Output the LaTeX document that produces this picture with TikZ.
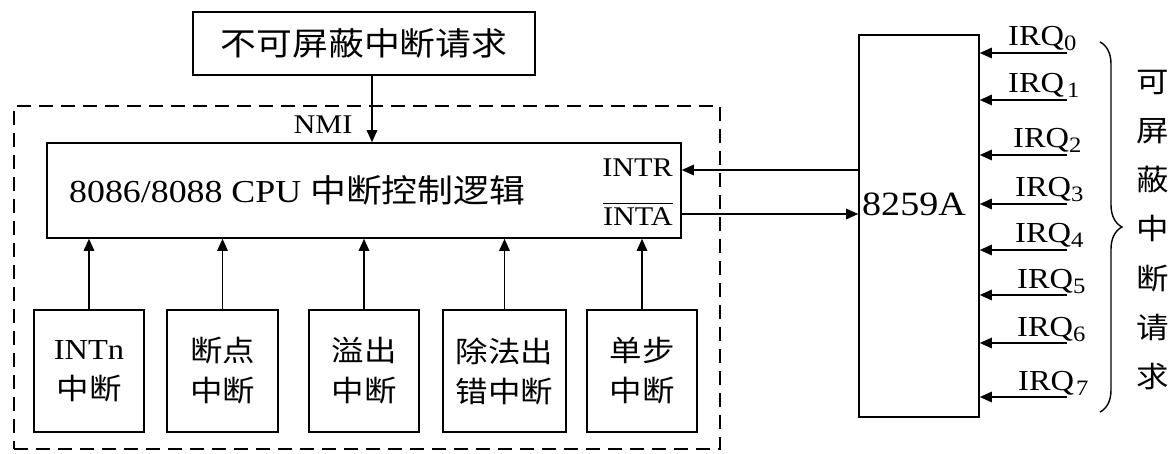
\documentclass[tikz,border=0pt]{standalone}
\usepackage{fontspec}
\setmainfont{Liberation Serif}[FakeStretch=1.12]
\newfontfamily\cjk{Noto Sans CJK SC}[FakeStretch=1.12]
\usetikzlibrary{arrows.meta,decorations.pathreplacing,calc}
\newcommand\fsz[2]{\fontsize{#1pt}{#2pt}\selectfont}
\tikzset{
  box/.style={draw, line width=1.6pt, inner sep=0pt},
  arr/.style={line width=1.4pt, -{Triangle[length=12pt,width=10.5pt]}},
  lbl/.style={inner sep=0pt},
  frame/.style={draw, line width=1.5pt, dash pattern=on 14pt off 8pt, inner sep=0pt},
}
\begin{document}
\begin{tikzpicture}[x=1pt,y=-1pt]
\useasboundingbox (0,0) rectangle (1174,454);
\fill[white] (0,0) rectangle (1174,454);

% non-maskable request
\node[box, minimum width=342pt, minimum height=63pt, font={\cjk\fsz{32}{38}}] (nmireq) at (364,43.5) {不可屏蔽中断请求};

% dashed frame
\node[frame, minimum width=706pt, minimum height=343pt] (frm) at (367,277.5) {};

% CPU box
\node[box, minimum width=634pt, minimum height=95pt] (cpu) at (364,190.5) {};
\node[lbl, anchor=west] (cputext) at (69,190) {\fsz{32}{38}8086/8088 CPU {\cjk 中断控制逻辑}};
\node[lbl, anchor=east] (intr) at (673,168) {\fsz{27}{32}INTR};
\node[lbl, anchor=east] (inta) at (673,214) {\fsz{27}{32}\vbox{\hrule height 1.5pt\kern3pt\hbox{INTA}}};
\node[lbl] (nmilbl) at (323,125) {\fsz{27}{32}NMI};
\coordinate (nmiX) at (372,0);
\draw[arr] (nmireq.south -| nmiX) -- (cpu.north -| nmiX);

% internal interrupt sources
\node[box, minimum width=110pt, minimum height=122pt, align=center, font={\fsz{29}{40}}] (b1) at (89,371) {INTn\\{\cjk 中断}};
\node[box, minimum width=111pt, minimum height=122pt, align=center, font={\cjk\fsz{29}{40}}] (b2) at (222.5,371) {断点\\中断};
\node[box, minimum width=110pt, minimum height=122pt, align=center, font={\cjk\fsz{29}{40}}] (b3) at (364,371) {溢出\\中断};
\node[box, minimum width=123pt, minimum height=122pt, align=center, font={\cjk\fsz{29}{40}}] (b4) at (504.5,371) {除法出\\错中断};
\node[box, minimum width=110pt, minimum height=122pt, align=center, font={\cjk\fsz{29}{40}}] (b5) at (642,371) {单步\\中断};
\foreach \b in {b1,b2,b3,b4,b5}{
  \draw[arr] (\b.north) -- (\b.north |- cpu.south);
}

% 8259A
\node[box, minimum width=120pt, minimum height=382pt] (pic) at (919,226) {};
\node[lbl] (piclbl) at (914,204) {\fsz{34}{40}8259A};
\coordinate (intrY) at (0,170);
\coordinate (intaY) at (0,214);
\draw[arr] (pic.west |- intrY) -- (cpu.east |- intrY);
\draw[arr] (cpu.east |- intaY) -- (pic.west |- intaY);

% IRQ lines
\foreach \i/\y/\x/\s in {0/53/1008/{0},1/100/1008/{\kern3pt 1},2/155/1013/{2},3/204/1015/{3},4/250/1015/{4},5/295/1017/{5},6/343/1017/{6},7/397/1018/{\kern2pt 7}}{
  \coordinate (irqend\i) at (1067,\y);
  \draw[arr] (irqend\i) -- (irqend\i -| pic.east);
  \node[lbl, anchor=base west] (irq\i) at (\x,\y-7) {\fsz{29}{34}IRQ\raisebox{-5pt}{\fsz{22}{26}\s}};
}

% brace and label
\coordinate (brtop) at (1100,42);
\coordinate (brbot) at (1100,412);
\draw[line width=1.4pt, decorate, decoration={brace, amplitude=22pt}] (brtop) -- (brbot);
\node[lbl, align=center, font={\cjk\fsz{29}{49.2}}] (masklbl) at (1153,230) {可\\屏\\蔽\\中\\断\\请\\求};
\end{tikzpicture}
\end{document}
